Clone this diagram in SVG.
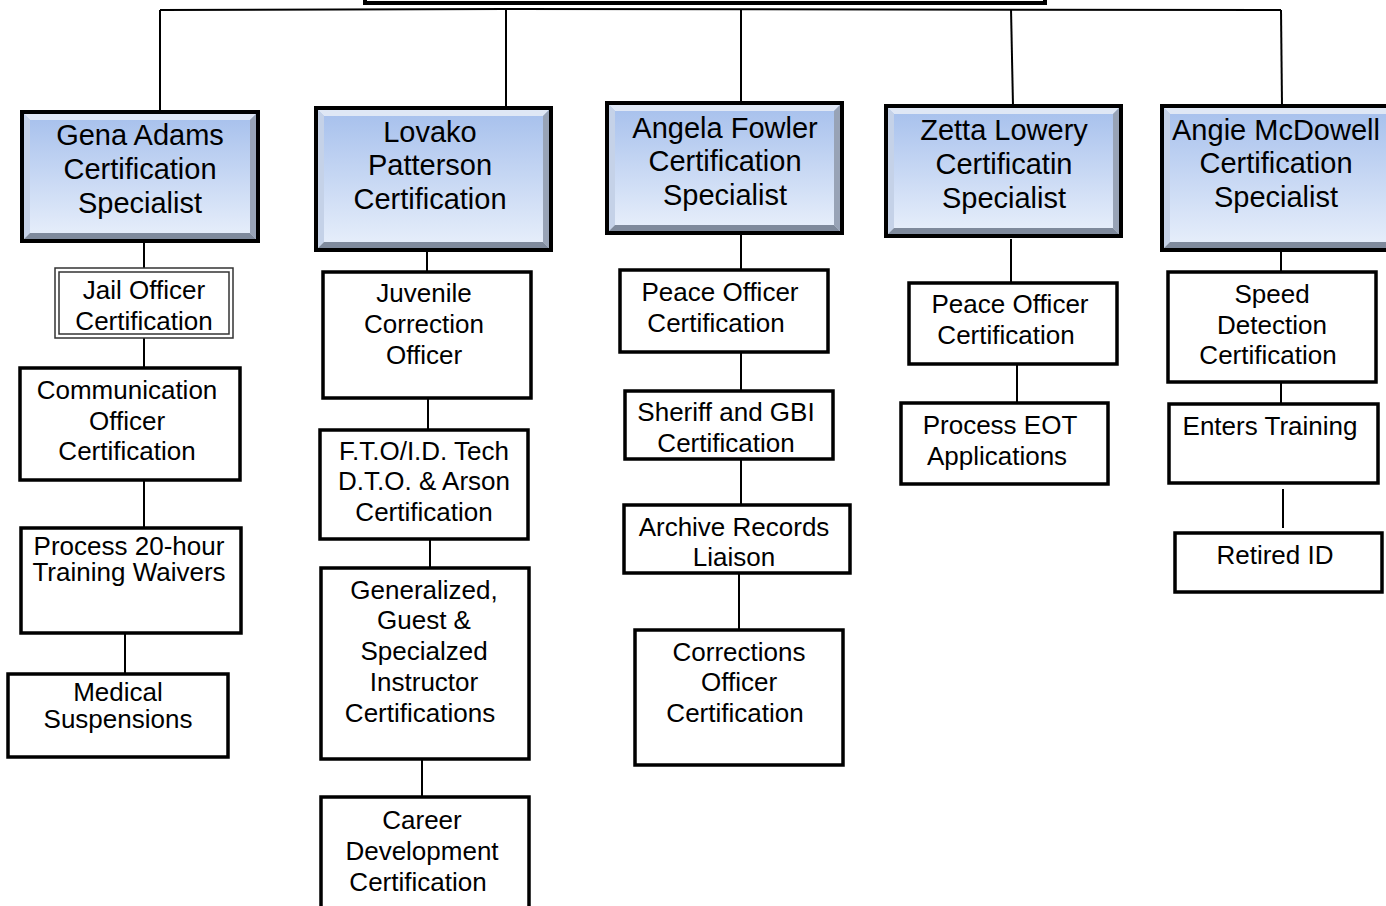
<svg xmlns="http://www.w3.org/2000/svg" width="1386" height="906" viewBox="0 0 1386 906">
<defs>
<linearGradient id="hg" x1="0" y1="0" x2="0" y2="1">
<stop offset="0" stop-color="#a5bfec"/>
<stop offset="1" stop-color="#e9f0fb"/>
</linearGradient>
<style>
.c{stroke:#000;stroke-width:2;fill:none}
.bx{fill:#fff;stroke:#000;stroke-width:3.5}
.hb{stroke:#000;stroke-width:4;fill:none}
.bt{fill:#dfe7f5}.bl{fill:#c5d2e8}.br{fill:#98a3b6}.bb{fill:#7f8a9c}
.ht{font-family:"Liberation Sans",Arial,sans-serif;font-size:29px;fill:#000;text-anchor:middle}
.t{font-family:"Liberation Sans",Arial,sans-serif;font-size:26px;fill:#000;text-anchor:middle}
</style>
</defs>
<rect width="1386" height="906" fill="#fff"/>

<g id="connectors">
<polyline class="c" points="160,10 506,9 1281,10"/>
<line class="c" x1="160" y1="10" x2="160" y2="112"/>
<line class="c" x1="506" y1="9" x2="506" y2="108"/>
<line class="c" x1="741" y1="9" x2="741" y2="103"/>
<line class="c" x1="1011" y1="9" x2="1013" y2="106"/>
<line class="c" x1="1281" y1="10" x2="1282" y2="106"/>
<line class="c" x1="144" y1="241" x2="144" y2="268"/>
<line class="c" x1="144" y1="338" x2="144" y2="368"/>
<line class="c" x1="144" y1="480" x2="144" y2="528"/>
<line class="c" x1="125" y1="633" x2="125" y2="674"/>
<line class="c" x1="427" y1="250" x2="427" y2="272"/>
<line class="c" x1="428" y1="398" x2="428" y2="430"/>
<line class="c" x1="430" y1="539" x2="430" y2="568"/>
<line class="c" x1="422" y1="759" x2="422" y2="797"/>
<line class="c" x1="741" y1="233" x2="741" y2="270"/>
<line class="c" x1="741" y1="352" x2="741" y2="391"/>
<line class="c" x1="741" y1="459" x2="741" y2="505"/>
<line class="c" x1="739" y1="573" x2="739" y2="630"/>
<line class="c" x1="1011" y1="239" x2="1011" y2="283"/>
<line class="c" x1="1017" y1="364" x2="1017" y2="403"/>
<line class="c" x1="1281" y1="250" x2="1281" y2="272"/>
<line class="c" x1="1281" y1="382" x2="1281" y2="404"/>
<line class="c" x1="1283" y1="489" x2="1283" y2="528"/>
</g>

<g id="root">
<rect x="365" y="-20" width="680" height="23" fill="#fff" stroke="#000" stroke-width="4"/>
</g>

<g id="gena">
<rect x="22" y="112" width="236" height="129" fill="url(#hg)"/>
<polygon class="bt" points="22,112 258,112 250,120 30,120"/>
<polygon class="bl" points="22,112 30,120 30,233 22,241"/>
<polygon class="br" points="258,112 258,241 250,233 250,120"/>
<polygon class="bb" points="22,241 30,233 250,233 258,241"/>
<rect class="hb" x="22" y="112" width="236" height="129"/>
<text class="ht" x="140" y="145">Gena Adams</text>
<text class="ht" x="140" y="179">Certification</text>
<text class="ht" x="140" y="213">Specialist</text>
</g>

<g id="lovako">
<rect x="316" y="108" width="235" height="142" fill="url(#hg)"/>
<polygon class="bt" points="316,108 551,108 543,116 324,116"/>
<polygon class="bl" points="316,108 324,116 324,242 316,250"/>
<polygon class="br" points="551,108 551,250 543,242 543,116"/>
<polygon class="bb" points="316,250 324,242 543,242 551,250"/>
<rect class="hb" x="316" y="108" width="235" height="142"/>
<text class="ht" x="430" y="142">Lovako</text>
<text class="ht" x="430" y="175">Patterson</text>
<text class="ht" x="430" y="209">Certification</text>
</g>

<g id="angela">
<rect x="607" y="103" width="235" height="130" fill="url(#hg)"/>
<polygon class="bt" points="607,103 842,103 834,111 615,111"/>
<polygon class="bl" points="607,103 615,111 615,225 607,233"/>
<polygon class="br" points="842,103 842,233 834,225 834,111"/>
<polygon class="bb" points="607,233 615,225 834,225 842,233"/>
<rect class="hb" x="607" y="103" width="235" height="130"/>
<text class="ht" x="725" y="138">Angela Fowler</text>
<text class="ht" x="725" y="171">Certification</text>
<text class="ht" x="725" y="205">Specialist</text>
</g>

<g id="zetta">
<rect x="886" y="106" width="235" height="130" fill="url(#hg)"/>
<polygon class="bt" points="886,106 1121,106 1113,114 894,114"/>
<polygon class="bl" points="886,106 894,114 894,228 886,236"/>
<polygon class="br" points="1121,106 1121,236 1113,228 1113,114"/>
<polygon class="bb" points="886,236 894,228 1113,228 1121,236"/>
<rect class="hb" x="886" y="106" width="235" height="130"/>
<text class="ht" x="1004" y="140">Zetta Lowery</text>
<text class="ht" x="1004" y="174">Certificatin</text>
<text class="ht" x="1004" y="208">Specialist</text>
</g>

<g id="angie">
<rect x="1162" y="106" width="234" height="144" fill="url(#hg)"/>
<polygon class="bt" points="1162,106 1396,106 1388,114 1170,114"/>
<polygon class="bl" points="1162,106 1170,114 1170,242 1162,250"/>
<polygon class="bb" points="1162,250 1170,242 1388,242 1396,250"/>
<rect class="hb" x="1162" y="106" width="234" height="144"/>
<text class="ht" x="1276" y="140">Angie McDowell</text>
<text class="ht" x="1276" y="173">Certification</text>
<text class="ht" x="1276" y="207">Specialist</text>
</g>

<g id="jail">
<rect x="55" y="268" width="178" height="70" fill="#fff" stroke="#333" stroke-width="1.5"/>
<rect x="59" y="272" width="170" height="62" fill="none" stroke="#333" stroke-width="1.5"/>
<text class="t" x="144" y="299">Jail Officer</text>
<text class="t" x="144" y="330">Certification</text>
</g>
<g id="communication">
<rect class="bx" x="20" y="368" width="220" height="112"/>
<text class="t" x="127" y="399">Communication</text>
<text class="t" x="127" y="430">Officer</text>
<text class="t" x="127" y="460">Certification</text>
</g>
<g id="process20">
<rect class="bx" x="21" y="528" width="220" height="105"/>
<text class="t" x="129" y="555">Process 20-hour</text>
<text class="t" x="129" y="581">Training Waivers</text>
</g>
<g id="medical">
<rect class="bx" x="8" y="674" width="220" height="83"/>
<text class="t" x="118" y="701">Medical</text>
<text class="t" x="118" y="728">Suspensions</text>
</g>

<g id="juvenile">
<rect class="bx" x="323" y="272" width="208" height="126"/>
<text class="t" x="424" y="302">Juvenile</text>
<text class="t" x="424" y="333">Correction</text>
<text class="t" x="424" y="364">Officer</text>
</g>
<g id="fto">
<rect class="bx" x="320" y="430" width="208" height="109"/>
<text class="t" x="424" y="460">F.T.O/I.D. Tech</text>
<text class="t" x="424" y="490">D.T.O. &amp; Arson</text>
<text class="t" x="424" y="521">Certification</text>
</g>
<g id="generalized">
<rect class="bx" x="321" y="568" width="208" height="191"/>
<text class="t" x="424" y="599">Generalized,</text>
<text class="t" x="424" y="629">Guest &amp;</text>
<text class="t" x="424" y="660">Specialzed</text>
<text class="t" x="424" y="691">Instructor</text>
<text class="t" x="420" y="722">Certifications</text>
</g>
<g id="career">
<rect class="bx" x="321" y="797" width="208" height="120"/>
<text class="t" x="422" y="829">Career</text>
<text class="t" x="422" y="860">Development</text>
<text class="t" x="418" y="891">Certification</text>
</g>

<g id="peace1">
<rect class="bx" x="620" y="270" width="208" height="82"/>
<text class="t" x="720" y="301">Peace Officer</text>
<text class="t" x="716" y="332">Certification</text>
</g>
<g id="sheriff">
<rect class="bx" x="625" y="391" width="208" height="68"/>
<text class="t" x="726" y="421">Sheriff and GBI</text>
<text class="t" x="726" y="452">Certification</text>
</g>
<g id="archive">
<rect class="bx" x="624" y="505" width="226" height="68"/>
<text class="t" x="734" y="536">Archive Records</text>
<text class="t" x="734" y="566">Liaison</text>
</g>
<g id="corrections">
<rect class="bx" x="635" y="630" width="208" height="135"/>
<text class="t" x="739" y="661">Corrections</text>
<text class="t" x="739" y="691">Officer</text>
<text class="t" x="735" y="722">Certification</text>
</g>

<g id="peace2">
<rect class="bx" x="909" y="283" width="208" height="81"/>
<text class="t" x="1010" y="313">Peace Officer</text>
<text class="t" x="1006" y="344">Certification</text>
</g>
<g id="eot">
<rect class="bx" x="901" y="403" width="207" height="81"/>
<text class="t" x="1000" y="434">Process EOT</text>
<text class="t" x="997" y="465">Applications</text>
</g>

<g id="speed">
<rect class="bx" x="1168" y="272" width="208" height="110"/>
<text class="t" x="1272" y="303">Speed</text>
<text class="t" x="1272" y="334">Detection</text>
<text class="t" x="1268" y="364">Certification</text>
</g>
<g id="enters">
<rect class="bx" x="1169" y="404" width="209" height="79"/>
<text class="t" x="1270" y="435">Enters Training</text>
</g>
<g id="retired">
<rect class="bx" x="1175" y="533" width="207" height="59"/>
<text class="t" x="1275" y="564">Retired ID</text>
</g>
</svg>
